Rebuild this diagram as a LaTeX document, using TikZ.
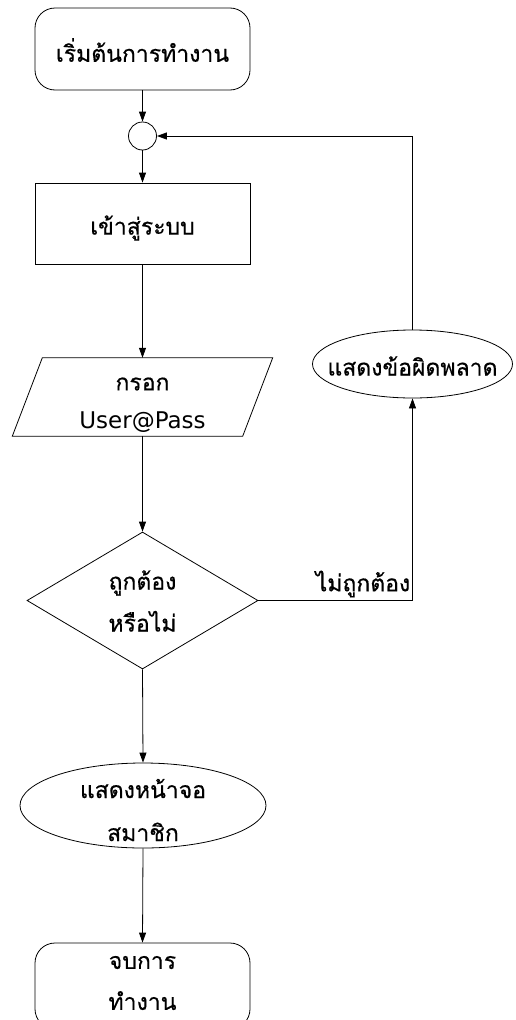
\documentclass[tikz,border=0pt]{standalone}
\usepackage{fontspec}
\newfontfamily\thai[Script=Thai, FakeBold=0.5]{Loma}
\newfontfamily\latin{DejaVu Sans}
\usetikzlibrary{arrows.meta,shapes.geometric,calc}
\begin{document}
\begin{tikzpicture}[x=1pt,y=-1pt,
  every node/.style={font=\thai\fontsize{23}{42}\selectfont, align=center, inner sep=0pt},
  base/.style={draw, line width=0.8pt},
  roundbox/.style={base, rectangle, rounded corners=20pt, minimum width=215pt, minimum height=82pt},
  plainbox/.style={base, rectangle, minimum width=215pt, minimum height=81pt},
  joint/.style={base, circle, minimum size=28pt},
  oval/.style={base, ellipse},
  choice/.style={base, diamond, minimum width=231pt, minimum height=137pt},
  flow/.style={line width=0.8pt, -{Triangle[length=10pt,width=7pt]}}
]
\useasboundingbox (0,0) rectangle (516,1020);
\clip (0,0) rectangle (516,1020);

% main column
\node[roundbox] (start) at (142.5,49) {};
\node at (142.5,50) {เริ่มต้นการทำงาน};
\node[joint] (junction) at (142.5,136) {};
\node[plainbox] (login) at (142.5,223.5) {};
\node at (142.5,228) {เข้าสู่ระบบ};

% input parallelogram: the node holds the text, the slanted outline is drawn around it
\node[minimum width=230pt, minimum height=78pt] (input) at (142.5,397) {};
\draw[base] ([xshift=-15pt]input.south west) -- ([xshift=15pt]input.north west)
  -- ([xshift=15pt]input.north east) -- ([xshift=-15pt]input.south east) -- cycle;
\node at (142.5,384) {กรอก};
\node[font=\latin\fontsize{23}{28}\selectfont] at (142.5,422) {User@Pass};

\node[choice] (decision) at (142.5,600.5) {};
\node at (142.5,601) {ถูกต้อง\\หรือไม่};

\node[oval, minimum width=200pt, minimum height=68pt] (err) at (412.5,364) {};
\node at (412.5,366) {แสดงข้อผิดพลาด};

\node[oval, minimum width=246pt, minimum height=85pt] (member) at (143,805.5) {};
\node[font=\thai\fontsize{23}{43}\selectfont] at (143,810) {แสดงหน้าจอ\\สมาชิก};

\node[roundbox, minimum height=86pt] (finish) at (142.5,986) {};
\node[font=\thai\fontsize{23}{41}\selectfont] at (142.5,983) {จบการ\\ทำงาน};

% connectors
\draw[flow] (start.south) -- (junction.north);
\draw[flow] (junction.south) -- (login.north);
\draw[flow] (login.south) -- (input.north);
\draw[flow] (input.south) -- (decision.north);
\draw[flow] (decision.south) -- (member.north);
\draw[flow] (member.south) -- (finish.north);

\coordinate (bend) at (err.south |- decision.east);
\draw[flow] (decision.east) -- (bend) -- (err.south);
\node[anchor=south east] at ([xshift=-2pt,yshift=3pt]bend) {ไม่ถูกต้อง};
\draw[flow] (err.north) |- (junction.east);
\end{tikzpicture}
\end{document}
